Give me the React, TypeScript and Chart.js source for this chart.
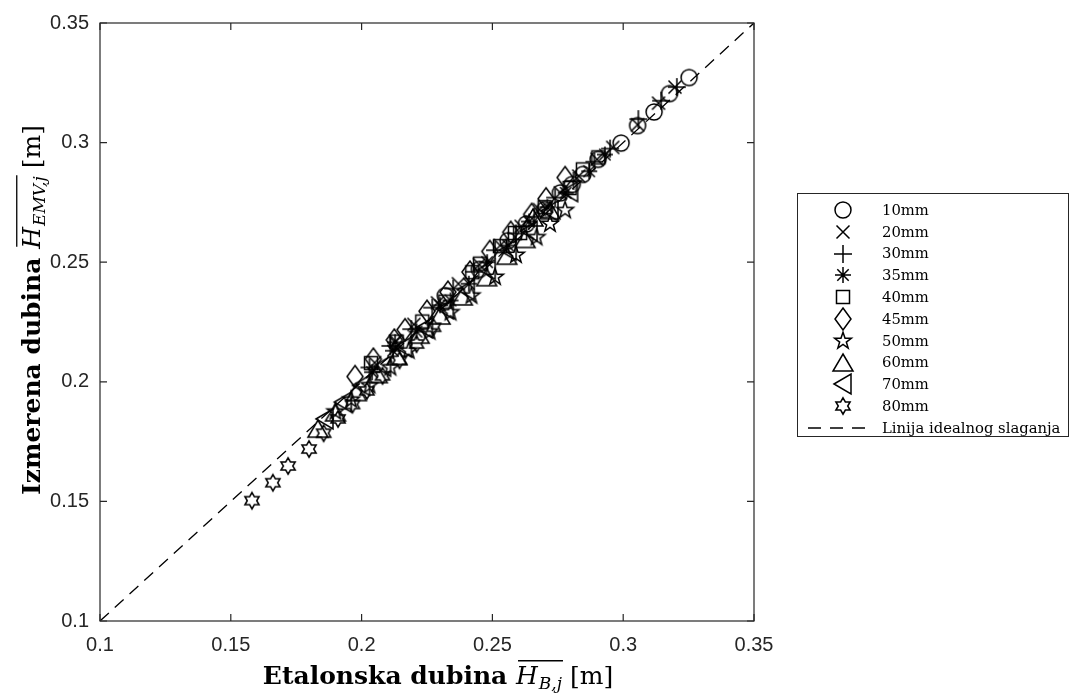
import React, { useEffect, useRef } from 'react';
import { Chart, registerables } from 'chart.js';

Chart.register(...registerables);

const W = 1070;
const H = 698;

const tickValues = [0.1, 0.15, 0.2, 0.25, 0.3, 0.35];
const tickLabels = ['0.1', '0.15', '0.2', '0.25', '0.3', '0.35'];

const seriesNames = ['10mm', '20mm', '30mm', '35mm', '40mm', '45mm', '50mm', '60mm', '70mm', '80mm'];
const idealName = 'Linija idealnog slaganja';
const idealX = [0.1, 0.35];
const idealY = [0.1, 0.35];

const mm10: [number, number][] = [
  [0.232, 0.236], [0.245, 0.247], [0.256, 0.259], [0.263, 0.266], [0.270, 0.272], [0.276, 0.279],
  [0.2805, 0.2825], [0.2846, 0.2867], [0.2904, 0.293], [0.2992, 0.2998], [0.3055, 0.3071],
  [0.3118, 0.3128], [0.3177, 0.3205], [0.3252, 0.3272],
];
const mm20: [number, number][] = [
  [0.205, 0.208], [0.213, 0.217], [0.220, 0.224], [0.229, 0.233], [0.237, 0.241], [0.245, 0.249],
  [0.253, 0.257], [0.261, 0.265], [0.268, 0.272], [0.276, 0.279], [0.283, 0.286], [0.290, 0.293],
  [0.296, 0.298], [0.3055, 0.3075], [0.3135, 0.3165], [0.3198, 0.3232],
];
const mm30: [number, number][] = [
  [0.203, 0.206], [0.211, 0.215], [0.219, 0.222], [0.227, 0.231], [0.235, 0.239], [0.243, 0.246],
  [0.251, 0.255], [0.259, 0.262], [0.266, 0.269], [0.274, 0.277], [0.281, 0.284], [0.289, 0.292],
  [0.295, 0.2975], [0.3058, 0.3098], [0.3145, 0.3175], [0.3205, 0.3232],
];
const mm35: [number, number][] = [
  [0.204, 0.204], [0.212, 0.213], [0.2128, 0.2165], [0.221, 0.221], [0.230, 0.232], [0.234, 0.234],
  [0.241, 0.241], [0.248, 0.250], [0.256, 0.257], [0.264, 0.267], [0.271, 0.273], [0.278, 0.279],
  [0.287, 0.288], [0.293, 0.295],
];
const mm40: [number, number][] = [
  [0.2036, 0.2078], [0.2134, 0.2168], [0.2232, 0.2252], [0.232, 0.2335], [0.2423, 0.2458], [0.2453, 0.2494],
  [0.2529, 0.2567], [0.2606, 0.2622], [0.2586, 0.2622], [0.270, 0.273], [0.2795, 0.281], [0.2846, 0.2888],
  [0.2905, 0.2938],
];
const mm45: [number, number][] = [
  [0.1975, 0.2022], [0.2045, 0.2095], [0.2125, 0.2175], [0.2166, 0.2218], [0.225, 0.2295], [0.233, 0.2375],
  [0.2414, 0.2459], [0.249, 0.2545], [0.257, 0.2625], [0.265, 0.270], [0.2705, 0.2765], [0.2778, 0.2854],
];
const mm50: [number, number][] = [
  [0.190, 0.1875], [0.196, 0.1925], [0.203, 0.1985], [0.211, 0.206], [0.218, 0.213], [0.226, 0.221],
  [0.234, 0.229], [0.242, 0.236], [0.251, 0.2438], [0.259, 0.253], [0.2669, 0.2604], [0.272, 0.266],
  [0.2778, 0.2717],
];
const mm60: [number, number][] = [
  [0.1833, 0.1802], [0.190, 0.187], [0.198, 0.1955], [0.206, 0.203], [0.2135, 0.2105], [0.222, 0.2195],
  [0.230, 0.2275], [0.2385, 0.2355], [0.2478, 0.2435], [0.2555, 0.2525], [0.2625, 0.2595], [0.2655, 0.2685],
  [0.272, 0.2715],
];
const mm70: [number, number][] = [
  [0.186, 0.1845], [0.193, 0.1915], [0.200, 0.1985], [0.208, 0.2065], [0.216, 0.2145], [0.224, 0.2225],
  [0.232, 0.2305], [0.240, 0.2385], [0.248, 0.247], [0.256, 0.255], [0.264, 0.263], [0.272, 0.2715],
  [0.2795, 0.2795],
];
const mm80: [number, number][] = [
  [0.1581, 0.1503], [0.1661, 0.1578], [0.1719, 0.1648], [0.1799, 0.1719], [0.1855, 0.1785], [0.191, 0.1845],
  [0.1965, 0.1905], [0.202, 0.1962], [0.208, 0.2025], [0.2145, 0.209], [0.221, 0.2158], [0.2275, 0.2228],
];

const seriesData = [mm10, mm20, mm30, mm35, mm40, mm45, mm50, mm60, mm70, mm80];

type Shape = 'circle' | 'x' | 'plus' | 'asterisk' | 'square' | 'diamond' | 'star5' | 'triUp' | 'triLeft' | 'hexagram';
const seriesShapes: Shape[] = ['circle', 'x', 'plus', 'asterisk', 'square', 'diamond', 'star5', 'triUp', 'triLeft', 'hexagram'];

const AXIS_COLOR = '#262626';

function strokeShape(ctx: CanvasRenderingContext2D, shape: Shape, cx: number, cy: number) {
  ctx.beginPath();
  switch (shape) {
    case 'circle':
      ctx.arc(cx, cy, 8, 0, Math.PI * 2);
      break;
    case 'x': {
      const h = 6.5;
      ctx.moveTo(cx - h, cy - h); ctx.lineTo(cx + h, cy + h);
      ctx.moveTo(cx + h, cy - h); ctx.lineTo(cx - h, cy + h);
      break;
    }
    case 'plus': {
      const h = 9;
      ctx.moveTo(cx - h, cy); ctx.lineTo(cx + h, cy);
      ctx.moveTo(cx, cy - h); ctx.lineTo(cx, cy + h);
      break;
    }
    case 'asterisk': {
      const h = 8;
      const d = 5.7;
      ctx.moveTo(cx - h, cy); ctx.lineTo(cx + h, cy);
      ctx.moveTo(cx, cy - h); ctx.lineTo(cx, cy + h);
      ctx.moveTo(cx - d, cy - d); ctx.lineTo(cx + d, cy + d);
      ctx.moveTo(cx + d, cy - d); ctx.lineTo(cx - d, cy + d);
      break;
    }
    case 'square':
      ctx.rect(cx - 6.5, cy - 6.5, 13, 13);
      break;
    case 'diamond':
      ctx.moveTo(cx, cy - 11); ctx.lineTo(cx + 8, cy); ctx.lineTo(cx, cy + 11); ctx.lineTo(cx - 8, cy);
      ctx.closePath();
      break;
    case 'star5':
      for (let i = 0; i < 10; i++) {
        const r = i % 2 ? 3.5 : 8.8;
        const a = -Math.PI / 2 + (i * Math.PI) / 5;
        const px = cx + r * Math.cos(a);
        const py = cy + r * Math.sin(a);
        if (i === 0) ctx.moveTo(px, py); else ctx.lineTo(px, py);
      }
      ctx.closePath();
      break;
    case 'triUp':
      ctx.moveTo(cx, cy - 9); ctx.lineTo(cx + 10, cy + 8); ctx.lineTo(cx - 10, cy + 8);
      ctx.closePath();
      break;
    case 'triLeft':
      ctx.moveTo(cx - 9, cy); ctx.lineTo(cx + 8, cy - 10); ctx.lineTo(cx + 8, cy + 10);
      ctx.closePath();
      break;
    case 'hexagram':
      for (let i = 0; i < 12; i++) {
        const r = i % 2 ? 4.7 : 8.2;
        const a = -Math.PI / 2 + (i * Math.PI) / 6;
        const px = cx + r * Math.cos(a);
        const py = cy + r * Math.sin(a);
        if (i === 0) ctx.moveTo(px, py); else ctx.lineTo(px, py);
      }
      ctx.closePath();
      break;
  }
  ctx.stroke();
}

function makeMarker(shape: Shape): HTMLCanvasElement {
  const c = document.createElement('canvas');
  c.width = 32;
  c.height = 32;
  const ctx = c.getContext('2d')!;
  ctx.strokeStyle = '#000';
  ctx.lineWidth = 1.5;
  ctx.lineJoin = 'miter';
  strokeShape(ctx, shape, 16, 16);
  return c;
}

function drawMathLabel(
  ctx: CanvasRenderingContext2D,
  boldText: string,
  sub: string,
  cx: number,
  baseline: number,
) {
  const size = 25;
  const subSize = 17;
  const fBold = `bold ${size}px "DejaVu Serif"`;
  const fItal = `italic ${size}px "DejaVu Serif"`;
  const fSub = `italic ${subSize}px "DejaVu Serif"`;
  const fReg = `${size}px "DejaVu Serif"`;
  ctx.font = fBold; const w1 = ctx.measureText(boldText).width;
  ctx.font = fItal; const wH = ctx.measureText('H').width;
  ctx.font = fSub; const wS = ctx.measureText(sub).width;
  ctx.font = fReg; const w3 = ctx.measureText(' [m]').width;
  const total = w1 + wH + 1 + wS + w3;
  let x = cx - total / 2;
  ctx.fillStyle = '#000';
  ctx.textBaseline = 'alphabetic';
  ctx.textAlign = 'left';
  ctx.font = fBold; ctx.fillText(boldText, x, baseline); x += w1;
  const hStart = x;
  ctx.font = fItal; ctx.fillText('H', x, baseline); x += wH + 1;
  ctx.font = fSub; ctx.fillText(sub, x, baseline + 5); x += wS;
  const hEnd = x;
  ctx.font = fReg; ctx.fillText(' [m]', x, baseline);
  ctx.strokeStyle = '#000';
  ctx.lineWidth = 1.3;
  ctx.beginPath();
  const oy = baseline - size * 0.73 - 5;
  ctx.moveTo(hStart + 2, oy);
  ctx.lineTo(hEnd + 1, oy);
  ctx.stroke();
}

export default function App() {
  const ref = useRef<HTMLCanvasElement | null>(null);

  useEffect(() => {
    const canvas = ref.current;
    if (!canvas) return;
    const markers = seriesShapes.map(makeMarker);

    const datasets: any[] = seriesData.map((pts, i) => ({
      label: seriesNames[i],
      data: pts.map(([x, y]) => ({ x, y })),
      pointStyle: markers[i],
      pointRadius: 8,
      pointHoverRadius: 8,
      showLine: false,
      borderColor: '#000',
      backgroundColor: 'transparent',
      order: 20 - i,
    }));
    datasets.push({
      label: idealName,
      data: idealX.map((x, i) => ({ x, y: idealY[i] })),
      showLine: true,
      pointRadius: 0,
      borderColor: '#000',
      borderWidth: 1.3,
      borderDash: [12, 8],
      backgroundColor: 'transparent',
      order: 0,
    });

    const framePlugin = {
      id: 'frame',
      afterDraw(chart: any) {
        const { ctx, chartArea } = chart;
        const xs = chart.scales.x;
        const ys = chart.scales.y;
        const { left, right, top, bottom } = chartArea;
        ctx.save();
        ctx.strokeStyle = AXIS_COLOR;
        ctx.lineWidth = 1.2;
        ctx.setLineDash([]);
        ctx.strokeRect(left, top, right - left, bottom - top);
        const tl = 7;
        ctx.beginPath();
        tickValues.forEach((v) => {
          const px = xs.getPixelForValue(v);
          ctx.moveTo(px, bottom); ctx.lineTo(px, bottom - tl);
          ctx.moveTo(px, top); ctx.lineTo(px, top + tl);
          const py = ys.getPixelForValue(v);
          ctx.moveTo(left, py); ctx.lineTo(left + tl, py);
          ctx.moveTo(right, py); ctx.lineTo(right - tl, py);
        });
        ctx.stroke();

        // axis titles
        drawMathLabel(ctx, 'Etalonska dubina ', 'B,j', 438, 684);
        ctx.save();
        ctx.translate(40, 310);
        ctx.rotate(-Math.PI / 2);
        drawMathLabel(ctx, 'Izmerena dubina ', 'EMV,j', 0, 0);
        ctx.restore();

        // legend
        const bx = 797.5, by = 193.5, bw = 271, bh = 243;
        ctx.fillStyle = '#fff';
        ctx.fillRect(bx, by, bw, bh);
        ctx.strokeStyle = AXIS_COLOR;
        ctx.lineWidth = 1;
        ctx.strokeRect(bx, by, bw, bh);
        const rowY0 = 210;
        const rowStep = 21.8;
        ctx.font = '14.8px "DejaVu Serif"';
        ctx.textBaseline = 'middle';
        ctx.textAlign = 'left';
        ctx.fillStyle = '#000';
        seriesNames.forEach((name, i) => {
          const y = rowY0 + i * rowStep;
          ctx.drawImage(markers[i], 843 - 16, Math.round(y) - 16);
          ctx.fillText(name, 882, y + 1);
        });
        const ly = rowY0 + seriesNames.length * rowStep;
        ctx.strokeStyle = '#000';
        ctx.lineWidth = 1.4;
        ctx.setLineDash([13, 9]);
        ctx.beginPath();
        ctx.moveTo(808, ly);
        ctx.lineTo(872, ly);
        ctx.stroke();
        ctx.setLineDash([]);
        ctx.fillText(idealName, 882, ly + 1);
        ctx.restore();
      },
    };

    const tickFont = { family: '"Liberation Sans", Arial, sans-serif', size: 20 };

    const chart = new Chart(canvas, {
      type: 'scatter',
      data: { datasets },
      options: {
        animation: false,
        responsive: false,
        events: [],
        layout: { padding: { left: 0, top: 19, right: W - 754, bottom: 0 } },
        plugins: { legend: { display: false }, tooltip: { enabled: false } },
        scales: {
          x: {
            type: 'linear',
            min: 0.1,
            max: 0.35,
            afterBuildTicks: (s: any) => { s.ticks = tickValues.map((v) => ({ value: v })); },
            afterFit: (s: any) => { s.height = H - 621; },
            ticks: {
              font: tickFont,
              color: AXIS_COLOR,
              padding: 12,
              maxRotation: 0,
              callback: (_v: any, i: number) => tickLabels[i],
            },
            grid: { display: false, drawTicks: false },
            border: { display: false },
          },
          y: {
            type: 'linear',
            min: 0.1,
            max: 0.35,
            afterBuildTicks: (s: any) => { s.ticks = tickValues.map((v) => ({ value: v })); },
            afterFit: (s: any) => { s.width = 100; },
            ticks: {
              font: tickFont,
              color: AXIS_COLOR,
              padding: 11,
              callback: (_v: any, i: number) => tickLabels[i],
            },
            grid: { display: false, drawTicks: false },
            border: { display: false },
          },
        },
      },
      plugins: [framePlugin],
    });

    return () => chart.destroy();
  }, []);

  return (
    <canvas
      ref={ref}
      width={W}
      height={H}
      style={{ position: 'absolute', left: 0, top: 0, width: W, height: H, background: '#fff' }}
    />
  );
}
